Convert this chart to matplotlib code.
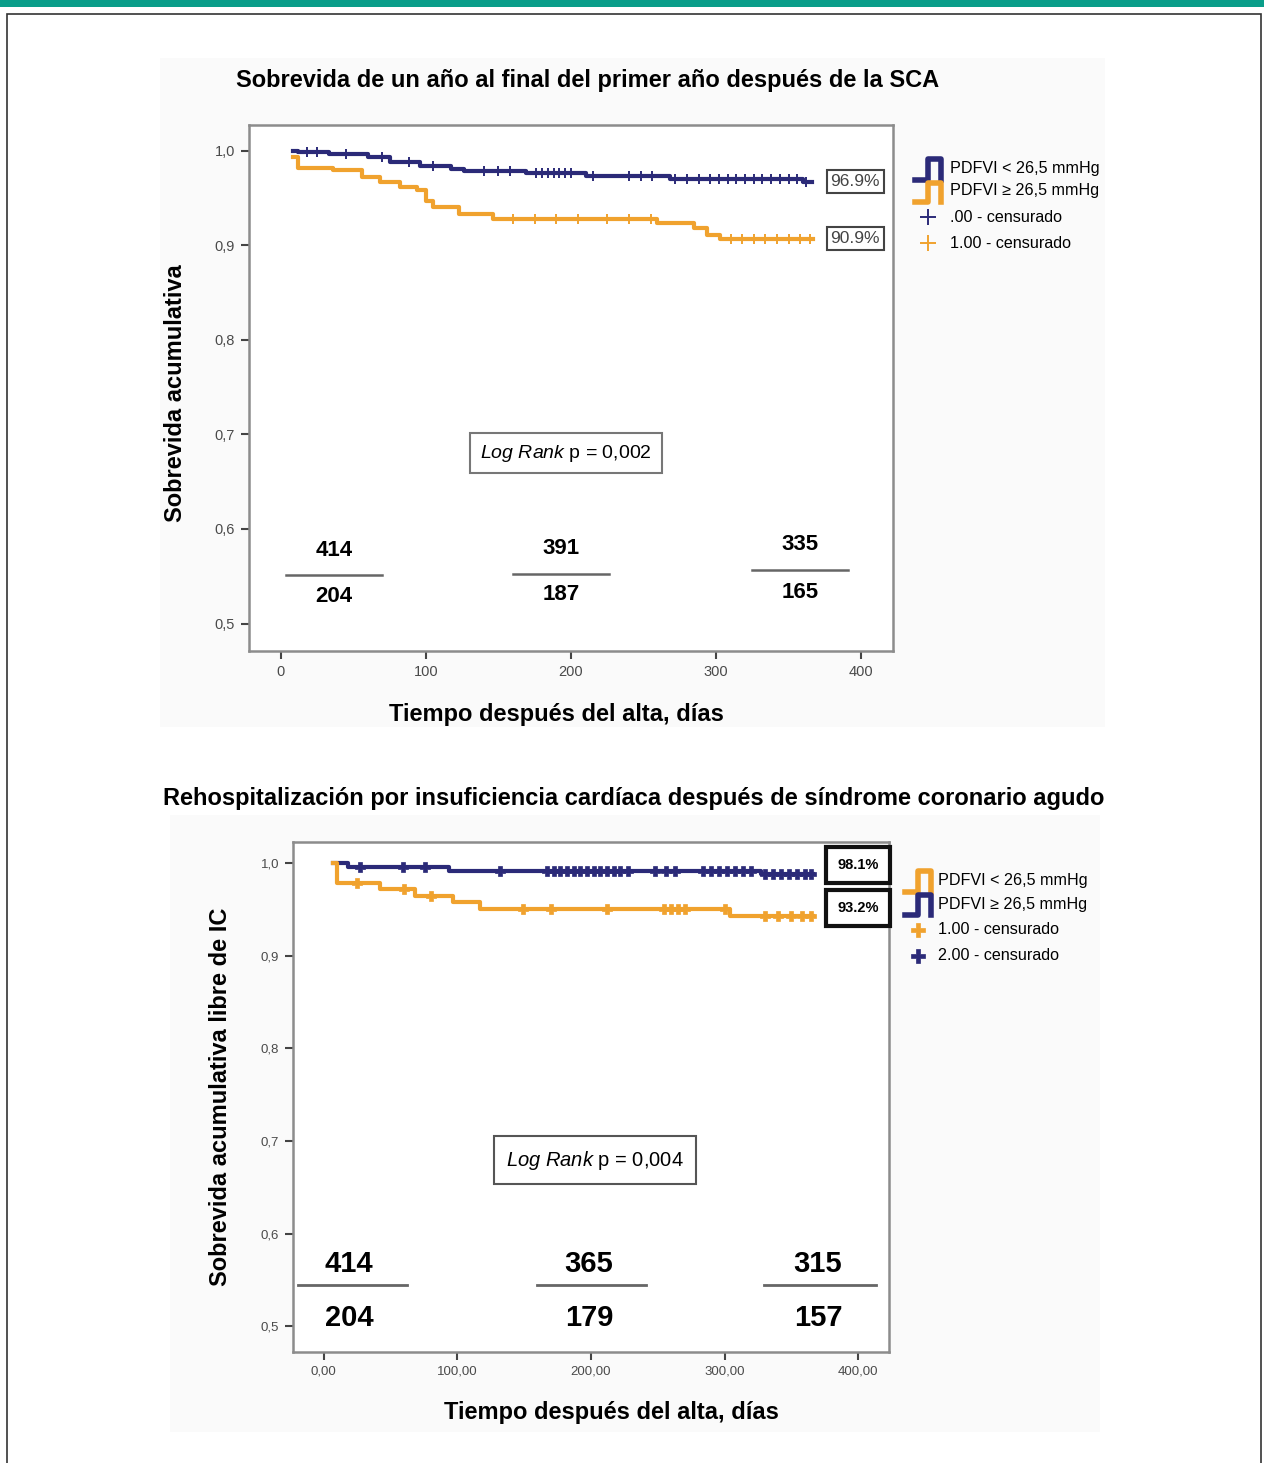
import numpy as np
import matplotlib
matplotlib.use("Agg")
import matplotlib.pyplot as plt
from matplotlib.lines import Line2D
from matplotlib.patches import Rectangle

plt.rcParams['font.family'] = ['Liberation Sans', 'DejaVu Sans']
plt.rcParams['mathtext.fontset'] = 'custom'
plt.rcParams['mathtext.it'] = 'Liberation Sans:italic'
plt.rcParams['mathtext.rm'] = 'Liberation Sans'

W, H = 1264, 1463
BLUE = '#2b2a78'
ORANGE = '#f0a22e'

############## DATA
# top chart: survival
top_blue_t = [8, 12, 33, 60, 75, 96, 117, 126, 169, 210, 268, 360, 366]
top_blue_s = [1.000, 0.998, 0.996, 0.993, 0.988, 0.984, 0.981, 0.978, 0.976, 0.973, 0.970, 0.967, 0.967]
top_blue_cens = [18, 25, 45, 70, 88, 105, 140, 150, 158, 176, 180, 184, 188, 192, 196, 200,
                 215, 240, 248, 256, 272, 280, 288, 296, 302, 308, 314, 320, 326, 332, 338,
                 344, 350, 356, 362]
top_orange_t = [8, 12, 36, 56, 68, 82, 94, 100, 105, 123, 146, 259, 285, 294, 303, 367]
top_orange_s = [0.993, 0.982, 0.979, 0.972, 0.967, 0.961, 0.958, 0.947, 0.940, 0.933, 0.928,
                0.923, 0.918, 0.911, 0.907, 0.907]
top_orange_cens = [160, 175, 190, 205, 225, 240, 255, 310, 318, 326, 334, 342, 350, 358, 365]
top_pct = ['96.9%', '90.9%']
top_risk = [('414', '204'), ('391', '187'), ('335', '165')]
top_p = '0,002'

# bottom chart: heart-failure-free
bot_blue_t = [7, 18, 94, 327, 366]
bot_blue_s = [1.000, 0.996, 0.992, 0.988, 0.988]
bot_blue_cens = [27, 59, 76, 132, 167, 172, 177, 182, 187, 192, 197, 202, 207, 212, 217, 222,
                 228, 248, 256, 263, 284, 290, 296, 302, 308, 314, 320, 330, 336, 342, 348,
                 354, 360, 365]
bot_orange_t = [7, 10, 42, 68, 97, 117, 304, 366]
bot_orange_s = [1.000, 0.979, 0.972, 0.965, 0.958, 0.951, 0.943, 0.943]
bot_orange_cens = [25, 60, 80, 149, 170, 212, 255, 260, 265, 270, 300, 330, 340, 350, 358, 365]
bot_pct = ['98.1%', '93.2%']
bot_risk = [('414', '204'), ('365', '179'), ('315', '157')]
bot_p = '0,004'

y_ticks = [0.5, 0.6, 0.7, 0.8, 0.9, 1.0]
y_ticklabels = ['0,5', '0,6', '0,7', '0,8', '0,9', '1,0']
x_ticks = [0, 100, 200, 300, 400]
top_xticklabels = ['0', '100', '200', '300', '400']
bot_xticklabels = ['0,00', '100,00', '200,00', '300,00', '400,00']


def fx(x):
    return x / W


def fy(y):
    return 1 - y / H


def step_at(t, s, x):
    i = np.searchsorted(t, x, side='right') - 1
    return np.asarray(s)[np.clip(i, 0, len(s) - 1)]


def fig_line(fig, xs, ys, **kw):
    fig.add_artist(Line2D([fx(v) for v in xs], [fy(v) for v in ys],
                          transform=fig.transFigure, **kw))


fig = plt.figure(figsize=(W / 100, H / 100), dpi=100)

############## page decoration
fig.add_artist(Rectangle((0, fy(7)), 1, 7 / H, transform=fig.transFigure,
                         color='#0a9e8a', lw=0))
fig.add_artist(Rectangle((fx(7), fy(1480)), (1261 - 7) / W, (1480 - 14) / H,
                         transform=fig.transFigure, fill=False, ec='#333333', lw=1.2))
fig.add_artist(Rectangle((fx(160), fy(727)), (1105 - 160) / W, (727 - 58) / H,
                         transform=fig.transFigure, color='#fafafa', lw=0, zorder=0))
fig.add_artist(Rectangle((fx(170), fy(1432)), (1100 - 170) / W, (1432 - 815) / H,
                         transform=fig.transFigure, color='#fafafa', lw=0, zorder=0))


def setup_axes(ax, xticklabels, tick_fs):
    ax.set_xlim(-22, 422)
    ax.set_ylim(0.471, 1.027)
    ax.set_yticks(y_ticks)
    ax.set_yticklabels(y_ticklabels)
    ax.set_xticks(x_ticks)
    ax.set_xticklabels(xticklabels)
    for sp in ax.spines.values():
        sp.set_color('#8c8c8c')
        sp.set_linewidth(1.8)
    ax.tick_params(length=6, width=1.5, color='#444444', labelcolor='#4a4a4a',
                   labelsize=tick_fs, pad=4)


def draw_km(ax, t, s, cens, color, marker, ms, mew):
    ax.step(t, s, where='post', color=color, lw=3.0, zorder=3)
    cy = step_at(t, s, cens)
    ax.plot(cens, cy, ls='none', marker=marker, color=color, ms=ms, mew=mew, zorder=4)


############## TOP CHART
ax1 = fig.add_axes([fx(249), fy(651), (893 - 249) / W, (651 - 125) / H])
setup_axes(ax1, top_xticklabels, 10.5)
draw_km(ax1, top_blue_t, top_blue_s, top_blue_cens, BLUE, '+', 7, 1.4)
draw_km(ax1, top_orange_t, top_orange_s, top_orange_cens, ORANGE, '+', 7, 1.4)
for txt, lvl in zip(top_pct, [top_blue_s[-1], top_orange_s[-1]]):
    ax1.text(396, lvl, txt, ha='center', va='center', fontsize=12.5, color='#444444',
             bbox=dict(boxstyle='square,pad=0.22', fc='white', ec='#444444', lw=1.5))
ax1.text(fx(566), fy(453), r'$\it{Log\ Rank}$ p = ' + top_p, transform=fig.transFigure,
         ha='center', va='center', fontsize=14,
         bbox=dict(boxstyle='square,pad=0.5', fc='white', ec='#777777', lw=1.5))

fig.text(fx(588), fy(80), 'Sobrevida de un año al final del primer año después de la SCA',
         ha='center', va='center', fontsize=17, fontweight='bold')
fig.text(fx(176), fy(393), 'Sobrevida acumulativa', rotation=90, ha='center', va='center',
         fontsize=17, fontweight='bold')
fig.text(fx(556), fy(715), 'Tiempo después del alta, días', ha='center', va='center',
         fontsize=17, fontweight='bold')

# number at risk
for (a, b), cx, yt, yl, yb in zip(top_risk, [334, 561, 800], [550, 548, 545], [575, 574, 570],
                                   [597, 595, 592]):
    fig.text(fx(cx), fy(yt), a, ha='center', va='center', fontsize=16, fontweight='bold')
    fig.text(fx(cx), fy(yb), b, ha='center', va='center', fontsize=16, fontweight='bold')
    fig_line(fig, [cx - 48, cx + 48], [yl, yl], color='#666666', lw=1.8)

# legend top
fig_line(fig, [915, 928, 928, 941, 941], [180, 180, 159, 159, 180], color=BLUE, lw=4)
fig_line(fig, [915, 928, 928, 941, 941], [202, 202, 183, 183, 202], color=ORANGE, lw=4)
fig.add_artist(Line2D([fx(928)], [fy(217)], marker='+', ms=11, mew=1.4, color=BLUE,
                      transform=fig.transFigure))
fig.add_artist(Line2D([fx(928)], [fy(243)], marker='+', ms=11, mew=1.4, color=ORANGE,
                      transform=fig.transFigure))
for txt, y in zip(['PDFVI < 26,5 mmHg', 'PDFVI ≥ 26,5 mmHg', '.00 - censurado',
                   '1.00 - censurado'], [168, 190, 217, 243]):
    fig.text(fx(950), fy(y), txt, ha='left', va='center', fontsize=11.6)

############## BOTTOM CHART
ax2 = fig.add_axes([fx(293), fy(1352), (889 - 293) / W, (1352 - 842) / H])
setup_axes(ax2, bot_xticklabels, 9.5)
ax2.set_xlim(-23, 423)
ax2.set_ylim(0.472, 1.023)
draw_km(ax2, bot_blue_t, bot_blue_s, bot_blue_cens, BLUE, 'P', 6.5, 0.5)
draw_km(ax2, bot_orange_t, bot_orange_s, bot_orange_cens, ORANGE, 'P', 6.5, 0.5)
for txt, y in zip(bot_pct, [865, 908]):
    fig.text(fx(858), fy(y), txt, ha='center', va='center', fontsize=10.5, fontweight='bold',
             bbox=dict(boxstyle='square,pad=0.75', fc='white', ec='#111111', lw=3))
ax2.text(fx(595), fy(1160), r'$\it{Log\ Rank}$ p = ' + bot_p, transform=fig.transFigure,
         ha='center', va='center', fontsize=14.5,
         bbox=dict(boxstyle='square,pad=0.6', fc='white', ec='#555555', lw=1.5))

fig.text(fx(634), fy(799),
         'Rehospitalización por insuficiencia cardíaca después de síndrome coronario agudo',
         ha='center', va='center', fontsize=17, fontweight='bold')
fig.text(fx(221), fy(1097), 'Sobrevida acumulativa libre de IC', rotation=90, ha='center',
         va='center', fontsize=17, fontweight='bold')
fig.text(fx(611), fy(1413), 'Tiempo después del alta, días', ha='center', va='center',
         fontsize=17, fontweight='bold')

for (a, b), cx, x0, x1 in zip(bot_risk, [349, 589, 818], [298, 537, 764], [407, 646, 876]):
    fig.text(fx(cx), fy(1264), a, ha='center', va='center', fontsize=21, fontweight='bold')
    fig.text(fx(cx), fy(1318), b, ha='center', va='center', fontsize=21, fontweight='bold')
    fig_line(fig, [x0, x1], [1285, 1285], color='#666666', lw=2.0)

# legend bottom
fig_line(fig, [905, 918, 918, 931, 931], [892, 892, 871, 871, 892], color=ORANGE, lw=4)
fig_line(fig, [905, 918, 918, 931, 931], [915, 915, 895, 895, 915], color=BLUE, lw=4)
fig.add_artist(Line2D([fx(918)], [fy(930)], marker='P', ms=10, mew=0.5, color=ORANGE,
                      transform=fig.transFigure))
fig.add_artist(Line2D([fx(918)], [fy(956)], marker='P', ms=10, mew=0.5, color=BLUE,
                      transform=fig.transFigure))
for txt, y in zip(['PDFVI < 26,5 mmHg', 'PDFVI ≥ 26,5 mmHg', '1.00 - censurado',
                   '2.00 - censurado'], [880, 904, 930, 956]):
    fig.text(fx(938), fy(y), txt, ha='left', va='center', fontsize=11.6)

plt.savefig('out.png', dpi=100)
plt.close()
